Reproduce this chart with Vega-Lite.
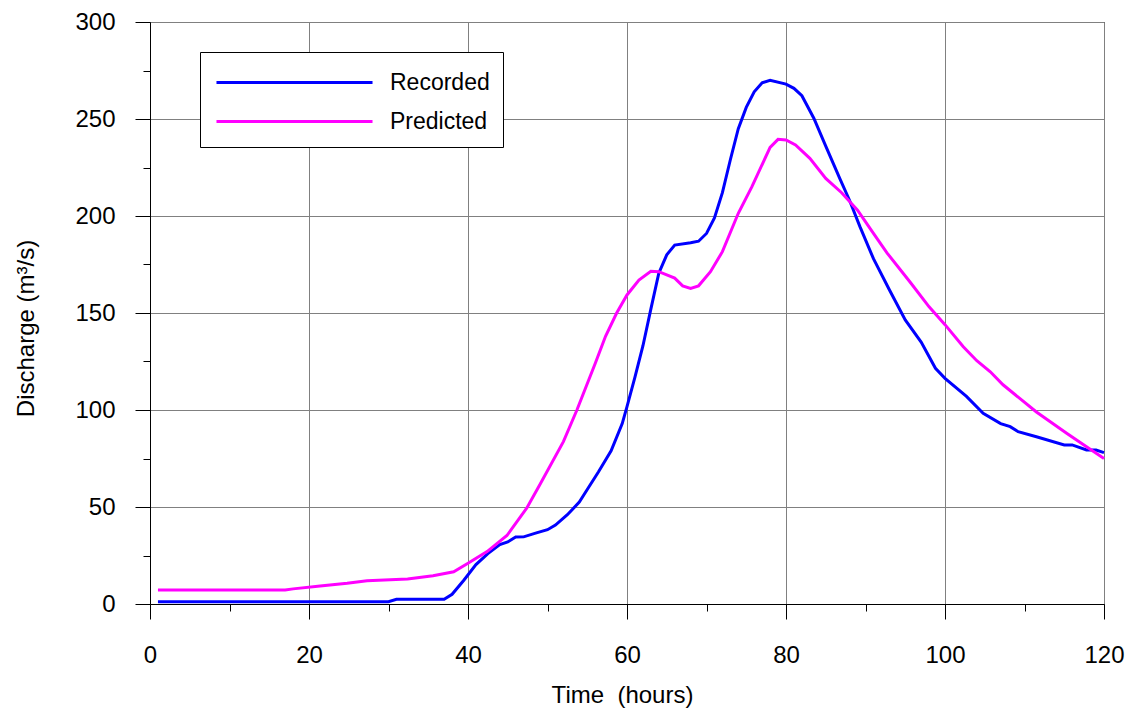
{
  "$schema": "https://vega.github.io/schema/vega-lite/v6.json",
  "width": 954,
  "height": 582,
  "autosize": {"type": "none"},
  "padding": {"left": 150, "top": 22, "right": 34, "bottom": 107},
  "background": "white",
  "config": {
    "font": "Liberation Sans",
    "view": {"stroke": "#000000", "strokeWidth": 1},
    "axis": {
      "labelFont": "Liberation Sans",
      "labelFontSize": 24,
      "labelColor": "#000000",
      "titleFont": "Liberation Sans",
      "titleFontSize": 24,
      "titleFontWeight": "normal",
      "titleColor": "#000000",
      "domainColor": "#000000",
      "domainWidth": 1,
      "tickColor": "#000000",
      "tickWidth": 1,
      "gridColor": "#808080",
      "gridWidth": 1
    }
  },
  "data": {
    "values": [
      {"s": "Recorded", "t": 1, "q": 1.2},
      {"s": "Recorded", "t": 10, "q": 1.2},
      {"s": "Recorded", "t": 20, "q": 1.2},
      {"s": "Recorded", "t": 30, "q": 1.2},
      {"s": "Recorded", "t": 31, "q": 2.4},
      {"s": "Recorded", "t": 37, "q": 2.4},
      {"s": "Recorded", "t": 38, "q": 5},
      {"s": "Recorded", "t": 39.5, "q": 12.4},
      {"s": "Recorded", "t": 41, "q": 20.3},
      {"s": "Recorded", "t": 42.5, "q": 26},
      {"s": "Recorded", "t": 44, "q": 30.6},
      {"s": "Recorded", "t": 45, "q": 32},
      {"s": "Recorded", "t": 46, "q": 34.5},
      {"s": "Recorded", "t": 47, "q": 34.6},
      {"s": "Recorded", "t": 48.5, "q": 36.5},
      {"s": "Recorded", "t": 50, "q": 38.3},
      {"s": "Recorded", "t": 51, "q": 40.7},
      {"s": "Recorded", "t": 52.5, "q": 46},
      {"s": "Recorded", "t": 54, "q": 52.5},
      {"s": "Recorded", "t": 55, "q": 59},
      {"s": "Recorded", "t": 56.4, "q": 68},
      {"s": "Recorded", "t": 58, "q": 79},
      {"s": "Recorded", "t": 59.4, "q": 93},
      {"s": "Recorded", "t": 60, "q": 101.7},
      {"s": "Recorded", "t": 61, "q": 117},
      {"s": "Recorded", "t": 62, "q": 133},
      {"s": "Recorded", "t": 63, "q": 152},
      {"s": "Recorded", "t": 64, "q": 170.5},
      {"s": "Recorded", "t": 65, "q": 180},
      {"s": "Recorded", "t": 66, "q": 185},
      {"s": "Recorded", "t": 68, "q": 186.2},
      {"s": "Recorded", "t": 69, "q": 187},
      {"s": "Recorded", "t": 70, "q": 191},
      {"s": "Recorded", "t": 71, "q": 199},
      {"s": "Recorded", "t": 72, "q": 212},
      {"s": "Recorded", "t": 73, "q": 229},
      {"s": "Recorded", "t": 74, "q": 245},
      {"s": "Recorded", "t": 75, "q": 256},
      {"s": "Recorded", "t": 76, "q": 264},
      {"s": "Recorded", "t": 77, "q": 268.7},
      {"s": "Recorded", "t": 78, "q": 270},
      {"s": "Recorded", "t": 80, "q": 268},
      {"s": "Recorded", "t": 81, "q": 265.8},
      {"s": "Recorded", "t": 82, "q": 262},
      {"s": "Recorded", "t": 83.5, "q": 250.4},
      {"s": "Recorded", "t": 85, "q": 236},
      {"s": "Recorded", "t": 86.8, "q": 219},
      {"s": "Recorded", "t": 88, "q": 208},
      {"s": "Recorded", "t": 89.3, "q": 194.5},
      {"s": "Recorded", "t": 91, "q": 178},
      {"s": "Recorded", "t": 93, "q": 162},
      {"s": "Recorded", "t": 95, "q": 146.4},
      {"s": "Recorded", "t": 97, "q": 135},
      {"s": "Recorded", "t": 98.8, "q": 121.5},
      {"s": "Recorded", "t": 100, "q": 116.3},
      {"s": "Recorded", "t": 102.7, "q": 107},
      {"s": "Recorded", "t": 104.8, "q": 98.3},
      {"s": "Recorded", "t": 107, "q": 93},
      {"s": "Recorded", "t": 108.2, "q": 91.4},
      {"s": "Recorded", "t": 109.2, "q": 88.8},
      {"s": "Recorded", "t": 111.5, "q": 86.2},
      {"s": "Recorded", "t": 115, "q": 82},
      {"s": "Recorded", "t": 116, "q": 82},
      {"s": "Recorded", "t": 117.8, "q": 79.4},
      {"s": "Recorded", "t": 119, "q": 79.4},
      {"s": "Recorded", "t": 120, "q": 78},
      {"s": "Predicted", "t": 1, "q": 7.2},
      {"s": "Predicted", "t": 17, "q": 7.2},
      {"s": "Predicted", "t": 18, "q": 7.8},
      {"s": "Predicted", "t": 21.4, "q": 9.3},
      {"s": "Predicted", "t": 24.8, "q": 10.7},
      {"s": "Predicted", "t": 27.3, "q": 12},
      {"s": "Predicted", "t": 32.4, "q": 12.9},
      {"s": "Predicted", "t": 35.6, "q": 14.6},
      {"s": "Predicted", "t": 38.2, "q": 16.6},
      {"s": "Predicted", "t": 40, "q": 21},
      {"s": "Predicted", "t": 42.4, "q": 27},
      {"s": "Predicted", "t": 44.9, "q": 35.3},
      {"s": "Predicted", "t": 47.4, "q": 49.5},
      {"s": "Predicted", "t": 49.1, "q": 62},
      {"s": "Predicted", "t": 52, "q": 83.7},
      {"s": "Predicted", "t": 53.7, "q": 100},
      {"s": "Predicted", "t": 56, "q": 124},
      {"s": "Predicted", "t": 57.3, "q": 138},
      {"s": "Predicted", "t": 58.7, "q": 150},
      {"s": "Predicted", "t": 60, "q": 159.3},
      {"s": "Predicted", "t": 61.5, "q": 167},
      {"s": "Predicted", "t": 63, "q": 171.5},
      {"s": "Predicted", "t": 64, "q": 171.3},
      {"s": "Predicted", "t": 66, "q": 168},
      {"s": "Predicted", "t": 67, "q": 164},
      {"s": "Predicted", "t": 68, "q": 162.7},
      {"s": "Predicted", "t": 69, "q": 164},
      {"s": "Predicted", "t": 70.5, "q": 171.3},
      {"s": "Predicted", "t": 72, "q": 181.6},
      {"s": "Predicted", "t": 74, "q": 201.4},
      {"s": "Predicted", "t": 75.7, "q": 215},
      {"s": "Predicted", "t": 78, "q": 235.4},
      {"s": "Predicted", "t": 79, "q": 239.5},
      {"s": "Predicted", "t": 80, "q": 239.2},
      {"s": "Predicted", "t": 81.2, "q": 236.6},
      {"s": "Predicted", "t": 83, "q": 229.7},
      {"s": "Predicted", "t": 85, "q": 219.4},
      {"s": "Predicted", "t": 87, "q": 212},
      {"s": "Predicted", "t": 89, "q": 203},
      {"s": "Predicted", "t": 91, "q": 191},
      {"s": "Predicted", "t": 92.7, "q": 181},
      {"s": "Predicted", "t": 95.6, "q": 166},
      {"s": "Predicted", "t": 98, "q": 153.2},
      {"s": "Predicted", "t": 100, "q": 144},
      {"s": "Predicted", "t": 102.3, "q": 132.6},
      {"s": "Predicted", "t": 104, "q": 125.4},
      {"s": "Predicted", "t": 105.7, "q": 119.7},
      {"s": "Predicted", "t": 107.3, "q": 113},
      {"s": "Predicted", "t": 109.4, "q": 106},
      {"s": "Predicted", "t": 111.5, "q": 99},
      {"s": "Predicted", "t": 115.3, "q": 88},
      {"s": "Predicted", "t": 117.8, "q": 81},
      {"s": "Predicted", "t": 120, "q": 75}
    ]
  },
  "mark": {"type": "line", "strokeWidth": 3, "interpolate": "linear"},
  "encoding": {
    "x": {
      "field": "t",
      "type": "quantitative",
      "scale": {"domain": [0, 120], "nice": false, "zero": false},
      "axis": {
        "title": "Time\u00a0 (hours)",
        "values": [0, 10, 20, 30, 40, 50, 60, 70, 80, 90, 100, 110, 120],
        "labelExpr": "datum.value % 20 == 0 ? datum.label : ''",
        "tickSize": {"condition": {"test": "datum.value % 20 == 0", "value": 15}, "value": 7},
        "gridOpacity": {"condition": {"test": "datum.value % 20 == 0", "value": 1}, "value": 0},
        "labelPadding": 24,
        "labelFlush": false,
        "labelOverlap": false,
        "titleBaseline": "alphabetic",
        "titleY": 98,
        "titleX": 472
      }
    },
    "y": {
      "field": "q",
      "type": "quantitative",
      "scale": {"domain": [0, 300], "nice": false},
      "axis": {
        "title": "Discharge (m³/s)",
        "values": [0, 25, 50, 75, 100, 125, 150, 175, 200, 225, 250, 275, 300],
        "labelExpr": "datum.value % 50 == 0 ? datum.label : ''",
        "tickSize": {"condition": {"test": "datum.value % 50 == 0", "value": 15}, "value": 7},
        "gridOpacity": {"condition": {"test": "datum.value % 50 == 0", "value": 1}, "value": 0},
        "labelPadding": 20,
        "labelFlush": false,
        "labelOverlap": false,
        "titleBaseline": "alphabetic",
        "titleX": -117,
        "titleY": 306
      }
    },
    "color": {
      "field": "s",
      "type": "nominal",
      "sort": ["Recorded", "Predicted"],
      "scale": {"domain": ["Recorded", "Predicted"], "range": ["#0000FF", "#FF00FF"]},
      "legend": {
        "title": null,
        "orient": "none",
        "legendX": 50,
        "legendY": 30,
        "fillColor": "#FFFFFF",
        "strokeColor": "#000000",
        "padding": 13,
        "symbolType": "M-5,0H5",
        "symbolSize": 974,
        "symbolStrokeWidth": 3,
        "symbolOffset": 64,
        "labelFont": "Liberation Sans",
        "labelFontSize": 23,
        "labelColor": "#000000",
        "labelOffset": 78,
        "rowPadding": 9
      }
    }
  }
}
